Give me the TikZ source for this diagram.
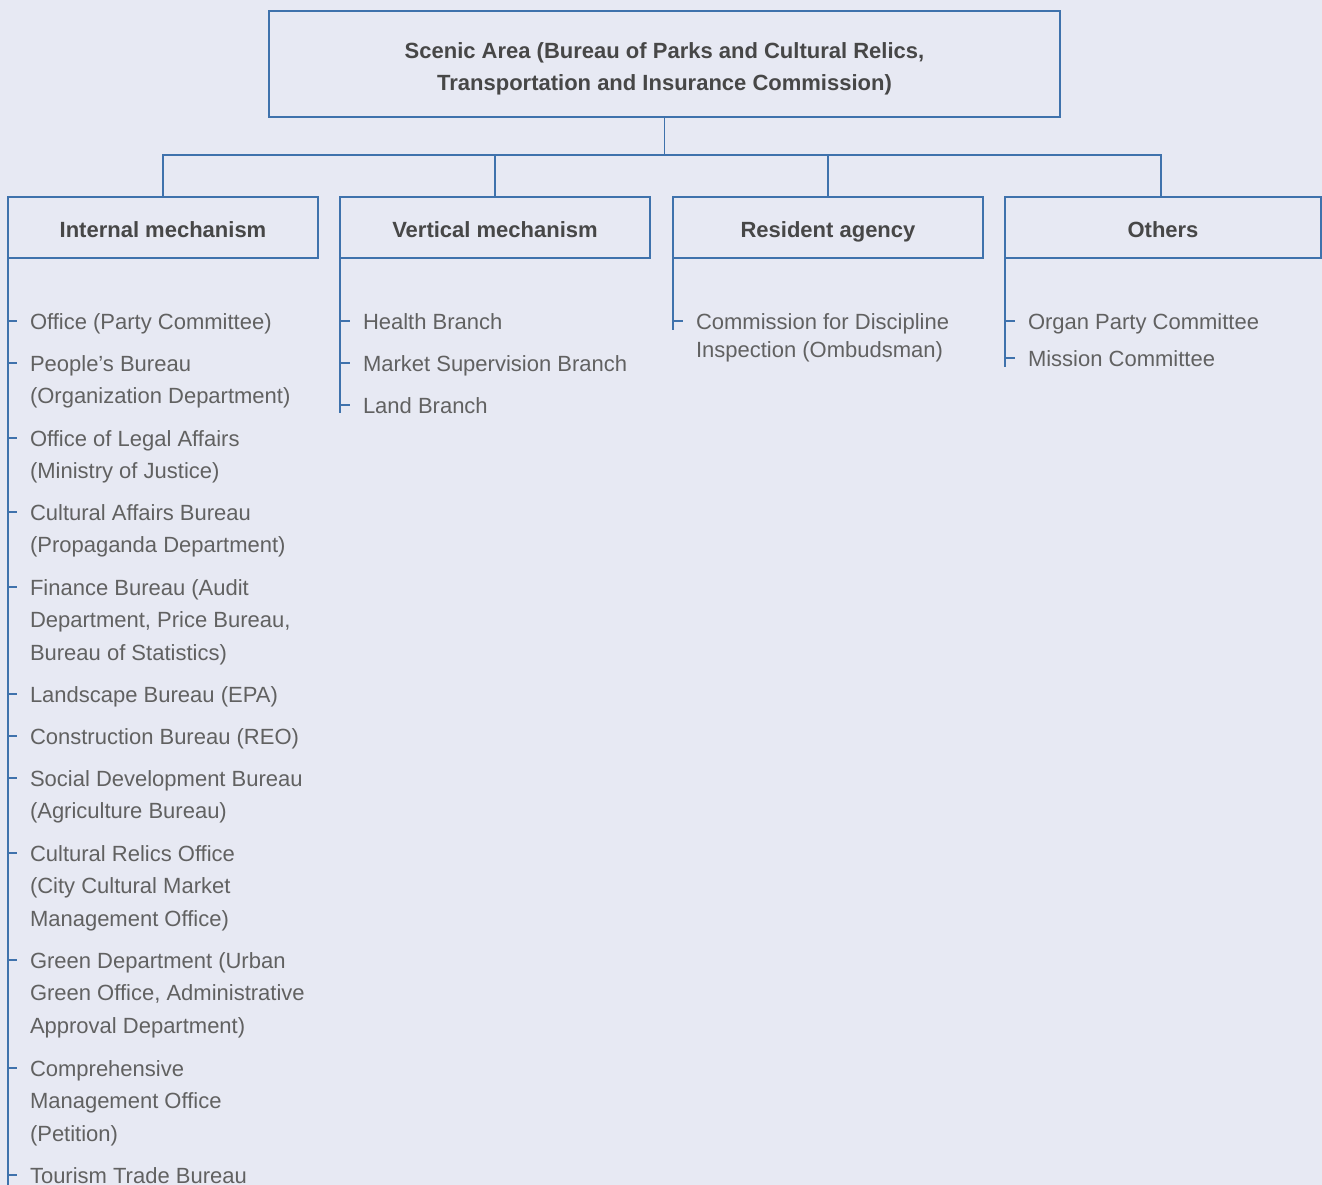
\documentclass[tikz,border=0pt]{standalone}
\usepackage{fontspec}
\setmainfont{Liberation Sans}
\definecolor{bgcol}{HTML}{E7E9F3}
\definecolor{linkblue}{HTML}{3F72AC}
\definecolor{headgray}{HTML}{474747}
\definecolor{bodygray}{HTML}{616161}
% first-line strut so every item's first baseline sits at the same depth
\newcommand\itemstrut{\rule{0pt}{22.75pt}}
\begin{document}
\begin{tikzpicture}[x=1pt,y=-1pt,
  line/.style={draw=linkblue, line width=1.4pt},
  topbox/.style={draw=linkblue, line width=1.4pt, outer sep=0pt, inner sep=0pt,
    minimum width=791pt, minimum height=106pt, align=center,
    font=\fontsize{22}{32}\selectfont\bfseries, text=headgray},
  headbox/.style={draw=linkblue, line width=1.4pt, outer sep=0pt, inner sep=0pt,
    minimum height=61pt, text height=22pt, text depth=3pt,
    font=\fontsize{22}{26}\selectfont\bfseries, text=headgray},
  item/.style={anchor=north west, inner sep=0pt, outer sep=0pt, yshift=14.75pt,
    align=left, font=\fontsize{22}{32.7}\selectfont, text=bodygray},
  tick/.style={draw=linkblue, line width=1.1pt}]

% canvas
\fill[bgcol] (0,0) rectangle (1322,1185);
\useasboundingbox (0,0) rectangle (1322,1185);
\clip (0,0) rectangle (1322,1185);

% root
\node[topbox] (top) at (664.5,64)
  {\rule{0pt}{27pt}Scenic Area (Bureau of Parks and Cultural Relics,\\
   Transportation and Insurance Commission)\rule[-5pt]{0pt}{5pt}};

% category headers
\node[headbox, minimum width=310pt] (h1) at (163,227.5) {Internal mechanism};
\node[headbox, minimum width=310pt] (h2) at (495,227.5) {Vertical mechanism};
\node[headbox, minimum width=310pt] (h3) at (828,227.5) {Resident agency};
\node[headbox, minimum width=316pt] (h4) at (1163,227.5) {Others};

% tree connectors
\coordinate (bar) at (0,155);
\coordinate (d4) at ([xshift=-2pt]h4.north);
\draw[line] (top.south) -- (top.south |- bar);
\draw[line] (h1.north) -- (h1.north |- bar) -- (d4 |- bar) -- (d4);
\draw[line] (h2.north) -- (h2.north |- bar);
\draw[line] (h3.north) -- (h3.north |- bar);

% spines
\draw[line] (h1.south west) -- ++(0pt,-927pt);
\draw[line] (h2.south west) -- ++(0pt,-155pt);
\draw[line] (h3.south west) -- ++(0pt,-72pt);
\draw[line] (h4.south west) -- ++(0pt,-109pt);

% internal mechanism
\node[item] (a1)  at (30,321)  {\itemstrut Office (Party Committee)};
\node[item] (a2)  at (30,363)  {\itemstrut People’s Bureau\\(Organization Department)};
\node[item] (a3)  at (30,438)  {\itemstrut Office of Legal Affairs\\(Ministry of Justice)};
\node[item] (a4)  at (30,512)  {\itemstrut Cultural Affairs Bureau\\(Propaganda Department)};
\node[item] (a5)  at (30,587)  {\itemstrut Finance Bureau (Audit\\Department, Price Bureau,\\Bureau of Statistics)};
\node[item] (a6)  at (30,694)  {\itemstrut Landscape Bureau (EPA)};
\node[item] (a7)  at (30,736)  {\itemstrut Construction Bureau (REO)};
\node[item] (a8)  at (30,778)  {\itemstrut Social Development Bureau\\(Agriculture Bureau)};
\node[item] (a9)  at (30,853)  {\itemstrut Cultural Relics Office\\(City Cultural Market\\Management Office)};
\node[item] (a10) at (30,960)  {\itemstrut Green Department (Urban\\Green Office, Administrative\\Approval Department)};
\node[item] (a11) at (30,1068) {\itemstrut Comprehensive\\Management Office\\(Petition)};
\node[item] (a12) at (30,1175) {\itemstrut Tourism Trade Bureau};

% vertical mechanism
\node[item] (b1) at (363,321) {\itemstrut Health Branch};
\node[item] (b2) at (363,363) {\itemstrut Market Supervision Branch};
\node[item] (b3) at (363,405) {\itemstrut Land Branch};

% resident agency
\node[item, font=\fontsize{22}{28}\selectfont] (c1) at (696,321)
  {\itemstrut Commission for Discipline\\Inspection (Ombudsman)};

% others
\node[item] (d1) at (1028,321) {\itemstrut Organ Party Committee};
\node[item] (d2) at (1028,358) {\itemstrut Mission Committee};

% ticks from spines to items
\foreach \n in {a1,a2,a3,a4,a5,a6,a7,a8,a9,a10,a11,a12,b1,b2,b3,c1,d1,d2}
  \draw[tick] ([shift={(-22pt,-14.75pt)}]\n.north west) -- ++(9pt,0pt);
\end{tikzpicture}
\end{document}
